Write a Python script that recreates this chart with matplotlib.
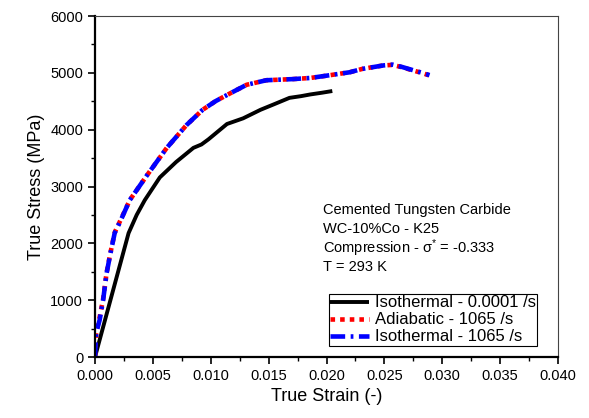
import matplotlib
matplotlib.use("Agg")
import matplotlib.pyplot as plt
from matplotlib.ticker import MultipleLocator

plt.rcParams["font.family"] = ["Liberation Sans", "DejaVu Sans"]
plt.rcParams["mathtext.fontset"] = "custom"
plt.rcParams["mathtext.rm"] = "Liberation Sans"
plt.rcParams["mathtext.it"] = "Liberation Sans:italic"

# isothermal, 0.0001 /s
iso_slow_strain = [0, 0.0029, 0.0036, 0.0043, 0.0056, 0.0070, 0.0085, 0.0092,
                   0.0098, 0.0114, 0.0128, 0.0143, 0.0155, 0.0168, 0.0178,
                   0.0186, 0.0196, 0.0205]
iso_slow_stress = [0, 2180, 2500, 2760, 3160, 3430, 3680, 3740,
                   3830, 4100, 4200, 4350, 4450, 4560, 4590,
                   4620, 4650, 4680]

# adiabatic, 1065 /s
adia_strain = [0, 0.0001, 0.0004, 0.0007, 0.0010, 0.0013, 0.0017, 0.0023,
               0.0030, 0.0045, 0.0062, 0.0079, 0.0093, 0.0104, 0.0114,
               0.0131, 0.0148, 0.0171, 0.0186, 0.0200, 0.0220, 0.0231,
               0.0249, 0.0257, 0.0265, 0.0275, 0.0282, 0.0291]
adia_stress = [0, 440, 700, 1020, 1480, 1800, 2190, 2450,
               2760, 3200, 3680, 4080, 4350, 4500, 4610,
               4790, 4870, 4890, 4910, 4950, 5010, 5070,
               5130, 5140, 5100, 5040, 5000, 4940]

# isothermal, 1065 /s
iso_fast_strain = [0, 0.0001, 0.0004, 0.0007, 0.0010, 0.0013, 0.0017, 0.0023,
                   0.0030, 0.0045, 0.0062, 0.0079, 0.0093, 0.0104, 0.0114,
                   0.0131, 0.0148, 0.0171, 0.0186, 0.0200, 0.0220, 0.0231,
                   0.0249, 0.0257, 0.0265, 0.0275, 0.0282, 0.0289]
iso_fast_stress = [0, 420, 650, 1000, 1470, 1790, 2180, 2440,
                   2760, 3200, 3680, 4080, 4350, 4500, 4610,
                   4790, 4870, 4890, 4910, 4950, 5010, 5070,
                   5130, 5145, 5105, 5045, 5005, 4960]

labels = ["Isothermal - 0.0001 /s", "Adiabatic - 1065 /s", "Isothermal - 1065 /s"]
note_lines = ["Cemented Tungsten Carbide", "WC-10%Co - K25",
              r"Compression - σ$^{*}$ = -0.333", "T = 293 K"]

fig = plt.figure(figsize=(5.89, 4.18), dpi=100)
ax = fig.add_axes([0.1613, 0.1459, 0.7861, 0.8158])

ax.plot(iso_slow_strain, iso_slow_stress, color="black", lw=2.8,
        solid_capstyle="butt", label=labels[0])
ax.plot(adia_strain, adia_stress, color="red", lw=3.3,
        linestyle=(0, (1.0, 1.1)), label=labels[1])
ax.plot(iso_fast_strain, iso_fast_stress, color="blue", lw=3.3,
        linestyle=(0, (3.2, 1.2, 0.6, 1.2)), label=labels[2])

ax.set_xlim(0, 0.040)
ax.set_ylim(0, 6000)
ax.xaxis.set_major_locator(MultipleLocator(0.005))
ax.xaxis.set_minor_locator(MultipleLocator(0.0025))
ax.yaxis.set_major_locator(MultipleLocator(1000))
ax.yaxis.set_minor_locator(MultipleLocator(500))
ax.xaxis.set_major_formatter(matplotlib.ticker.FormatStrFormatter("%.3f"))

ax.tick_params(which="major", direction="out", length=5, width=1.2,
               labelsize=10.5, top=False, right=False)
ax.tick_params(which="minor", direction="out", length=3, width=1.0,
               top=False, right=False)
for side in ("left", "bottom"):
    ax.spines[side].set_linewidth(1.6)
for side in ("top", "right"):
    ax.spines[side].set_linewidth(0.8)
    ax.spines[side].set_color("#444444")

ax.set_xlabel("True Strain (-)", fontsize=13)
ax.set_ylabel("True Stress (MPa)", fontsize=13)

for i, line in enumerate(note_lines):
    ax.text(0.492, 0.431 - i * 0.0555, line, transform=ax.transAxes,
            fontsize=10.5, ha="left", va="center")

leg = ax.legend(loc="lower right", bbox_to_anchor=(0.955, 0.032),
                fontsize=12, frameon=True, fancybox=False, framealpha=1,
                edgecolor="black", borderpad=0.1, borderaxespad=0,
                handlelength=2.3, handletextpad=0.35, labelspacing=0.12)
leg.get_frame().set_linewidth(0.8)

fig.savefig("out.png", dpi=100)
